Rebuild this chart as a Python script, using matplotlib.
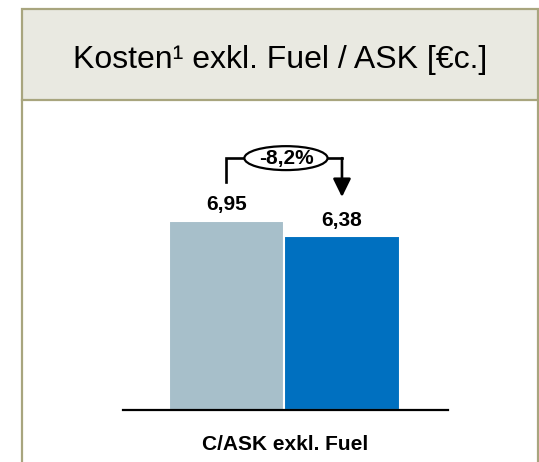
import matplotlib
matplotlib.use('Agg')
import matplotlib.pyplot as plt
from matplotlib.patches import Rectangle, Ellipse
from matplotlib.lines import Line2D

plt.rcParams['font.family'] = ['Liberation Sans', 'DejaVu Sans']

# Daten
categories = ['C/ASK exkl. Fuel']
values = [6.95, 6.38]
value_labels = ['6,95', '6,38']
change_label = '-8,2%'
title = 'Kosten¹ exkl. Fuel / ASK [€c.]'
bar_colors = ['#A7BFCA', '#0070C0']

W, H = 539, 462
fig = plt.figure(figsize=(W / 100, H / 100), dpi=100)


def fx(px):
    return px / W


def fy(py):
    return 1 - py / H


# Rahmen / Kopfzeile
border = '#A8A57E'
fig.patches.append(Rectangle((fx(22), fy(100.5)), fx(538) - fx(22), fy(9) - fy(100.5),
                             transform=fig.transFigure, facecolor='#E9E9E1',
                             edgecolor=border, lw=1.6, zorder=0))
for x in (22, 538):
    fig.lines.append(Line2D([fx(x), fx(x)], [fy(100.5), 0], transform=fig.transFigure,
                            color=border, lw=1.6))
fig.text(fx(280), fy(68), title, ha='center', va='baseline', fontsize=23)

# Balkendiagramm
ax = fig.add_axes([fx(123), fy(410), fx(448) - fx(123), fy(120) - fy(410)])
x = [0, 1]
ax.bar(x, values, width=1.0, color=bar_colors, edgecolor='white', linewidth=1.5)
ax.set_xlim(-0.896, 1.918)
ax.set_ylim(0, 290 / 27.2)
for s in ('top', 'right', 'left'):
    ax.spines[s].set_visible(False)
ax.spines['bottom'].set_linewidth(1.6)
ax.set_yticks([])
ax.set_xticks([])
ax.patch.set_alpha(0)

for xi, v, lab in zip(x, values, value_labels):
    ax.annotate(lab, (xi, v), xytext=(0, 5), textcoords='offset points',
                ha='center', va='bottom', fontsize=15, fontweight='bold')

# Veränderungspfeil
y_br = 9.26
ax.plot([x[0], x[0], x[1]], [8.38, y_br, y_br], color='black', lw=1.9,
        solid_joinstyle='miter')
ax.annotate('', xy=(x[1], 7.83), xytext=(x[1], y_br),
            arrowprops=dict(arrowstyle='-|>,head_length=0.55,head_width=0.27',
                            mutation_scale=20, lw=1.9, color='black',
                            shrinkA=0, shrinkB=0))
ax.add_patch(Ellipse((0.515, y_br), 0.72, 0.88, facecolor='white',
                     edgecolor='black', lw=1.6, zorder=3))
ax.text(0.515, y_br, change_label, ha='center', va='center', fontsize=15,
        fontweight='bold', zorder=4)

fig.text(fx(285.5), fy(444), categories[0], ha='center', va='center',
         fontsize=15, fontweight='bold')

fig.savefig('out.png', dpi=100)
